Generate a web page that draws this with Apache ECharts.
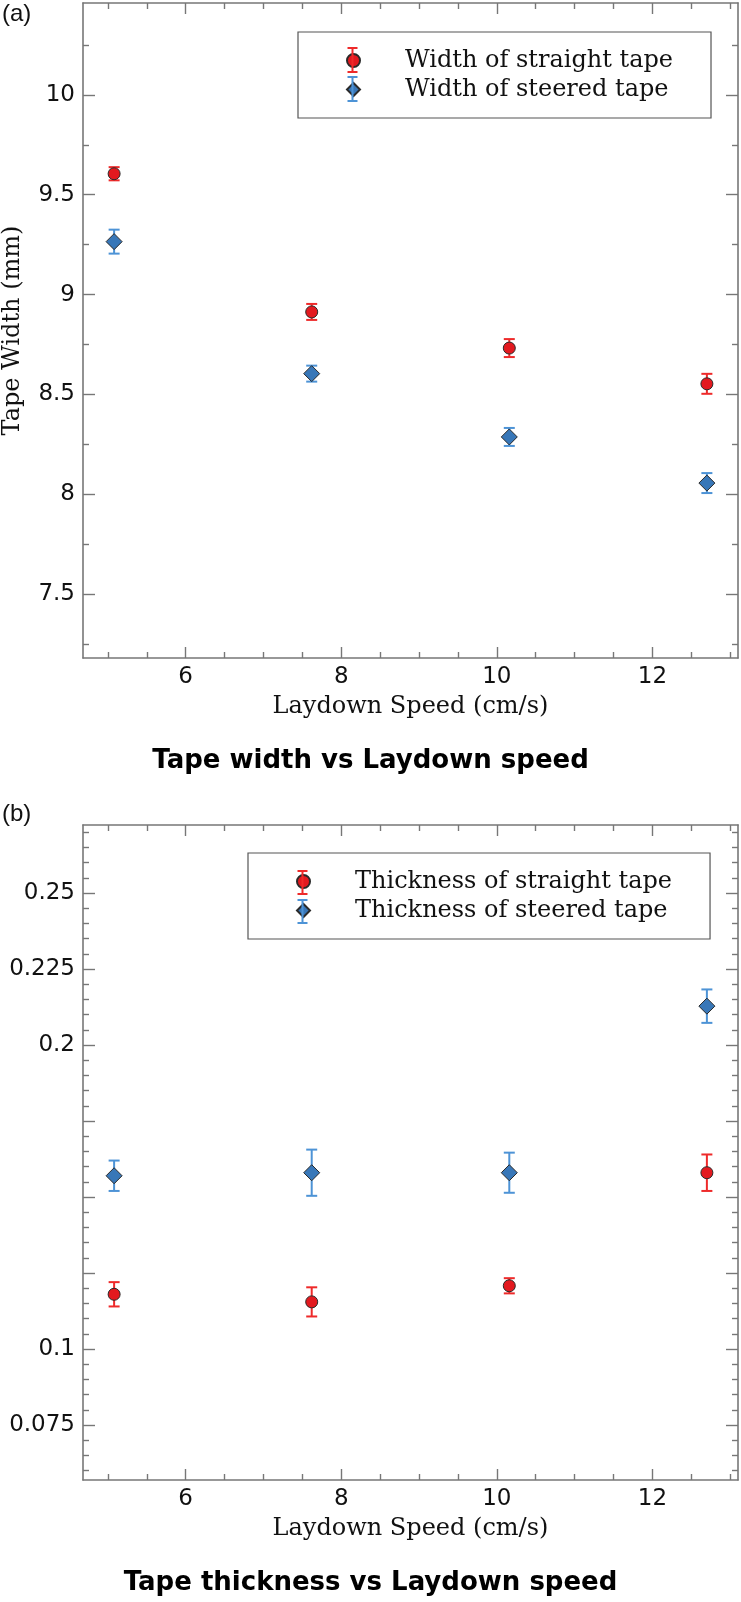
<!DOCTYPE html>
<html><head><meta charset="utf-8">
<script src="https://cdn.jsdelivr.net/npm/echarts@6/dist/echarts.min.js"></script>
<style>html,body{margin:0;padding:0;background:#fff}#c{width:741px;height:1602px}</style>
</head><body><div id="c"></div>
<script>
// ---- data ----
const speeds = [5.08, 7.62, 10.16, 12.7];
const widthStraight = [9.605, 8.913, 8.732, 8.553];
const widthStraightErr = [0.033, 0.04, 0.045, 0.05];
const widthSteered = [9.265, 8.604, 8.287, 8.056];
const widthSteeredErr = [0.06, 0.04, 0.045, 0.05];
const thickStraight = [0.118, 0.1155, 0.1208, 0.158];
const thickStraightErr = [0.004, 0.0048, 0.0025, 0.006];
const thickSteered = [0.157, 0.158, 0.158, 0.2128];
const thickSteeredErr = [0.005, 0.0076, 0.0066, 0.0055];

const xMajor = [6, 8, 10, 12];
const xMinor = [5, 5.5, 6.5, 7, 7.5, 8.5, 9, 9.5, 10.5, 11, 11.5, 12.5, 13];
const widthMajor = [7.5, 8, 8.5, 9, 9.5, 10];
const widthMinor = [7.25, 7.75, 8.25, 8.75, 9.25, 9.75, 10.25];
const thickMajor = [0.075, 0.1, 0.125, 0.15, 0.175, 0.2, 0.225, 0.25];
const thickLabels = [0.075, 0.1, 0.2, 0.225, 0.25];
const thickMinor = [];
for (let k = 12; k <= 54; k++) { if (k % 5 !== 0) thickMinor.push(+(k * 0.005).toFixed(3)); }

const names = ['Width of straight tape', 'Width of steered tape', 'Thickness of straight tape', 'Thickness of steered tape'];

// ---- styles ----
const AX = '#777';
const RED = '#e3191f', RED_BAR = '#ee2a2a';
const BLUE = '#3877b8', BLUE_BAR = '#4d93d6';
const TICK_FONT = 'DejaVu Sans';
const SERIF = 'DejaVu Serif';
const G = [{top: 3, h: 655}, {top: 825, h: 655}];
const XR = [4.68, 13.1];
const YR = [[7.18, 10.46], [0.0569, 0.2724]];

function fmt(v) { return String(+(+v).toFixed(4)); }

function axis(gridIndex, min, max, position, ticks, len, showLine, labels, extra) {
  const a = {
    type: 'value', gridIndex, min, max, position, offset: 0,
    axisLine: {show: showLine, onZero: false, lineStyle: {color: AX, width: 1.6}},
    axisTick: {show: true, inside: true, length: len, customValues: ticks, lineStyle: {color: AX, width: 1.4}},
    axisLabel: labels ? {show: true, customValues: labels, margin: 8, fontFamily: TICK_FONT, fontSize: 23, color: '#111', formatter: fmt}
                      : {show: false},
    splitLine: {show: false}, minorTick: {show: false}, minorSplitLine: {show: false},
    axisPointer: {show: false}
  };
  return Object.assign(a, extra || {});
}

const xAxes = [], yAxes = [];
const yMaj = [widthMajor, thickMajor], yMin = [widthMinor, thickMinor], yLab = [widthMajor, thickLabels];
const yName = ['Tape Width (mm)', 'Tape Thickness (mm)'];
for (let g = 0; g < 2; g++) {
  xAxes.push(axis(g, XR[0], XR[1], 'bottom', xMajor, 11, true, xMajor, {
    name: 'Laydown Speed (cm/s)', nameLocation: 'middle', nameGap: 37,
    nameTextStyle: {fontFamily: SERIF, fontSize: 24, color: '#111'}
  }));
  xAxes.push(axis(g, XR[0], XR[1], 'bottom', xMinor, 6, false, null));
  xAxes.push(axis(g, XR[0], XR[1], 'top', xMajor, 11, true, null));
  xAxes.push(axis(g, XR[0], XR[1], 'top', xMinor, 6, false, null));
  yAxes.push(axis(g, YR[g][0], YR[g][1], 'left', yMaj[g], 12, true, yLab[g], {
    name: yName[g], nameLocation: 'middle', nameGap: 58, nameRotate: 90,
    nameTextStyle: {fontFamily: SERIF, fontSize: 24, color: '#111'}
  }));
  yAxes.push(axis(g, YR[g][0], YR[g][1], 'left', yMin[g], 6, false, null));
  yAxes.push(axis(g, YR[g][0], YR[g][1], 'right', yMaj[g], 12, true, null));
  yAxes.push(axis(g, YR[g][0], YR[g][1], 'right', yMin[g], 6, false, null));
}

function errRender(color) {
  return function (params, api) {
    const x = api.value(0), y = api.value(1), e = api.value(2);
    const hi = api.coord([x, y + e]), lo = api.coord([x, y - e]);
    const hw = 5.5;
    const st = {stroke: color, lineWidth: 2};
    return {type: 'group', children: [
      {type: 'line', shape: {x1: hi[0], y1: hi[1], x2: lo[0], y2: lo[1]}, style: st},
      {type: 'line', shape: {x1: hi[0] - hw, y1: hi[1], x2: hi[0] + hw, y2: hi[1]}, style: st},
      {type: 'line', shape: {x1: lo[0] - hw, y1: lo[1], x2: lo[0] + hw, y2: lo[1]}, style: st}
    ]};
  };
}

const seriesDefs = [
  {g: 0, name: names[0], vals: widthStraight, err: widthStraightErr, sym: 'circle', size: 12, fill: RED, bar: RED_BAR},
  {g: 0, name: names[1], vals: widthSteered, err: widthSteeredErr, sym: 'diamond', size: 16, fill: BLUE, bar: BLUE_BAR},
  {g: 1, name: names[2], vals: thickStraight, err: thickStraightErr, sym: 'circle', size: 12, fill: RED, bar: RED_BAR},
  {g: 1, name: names[3], vals: thickSteered, err: thickSteeredErr, sym: 'diamond', size: 16, fill: BLUE, bar: BLUE_BAR}
];
const series = [];
seriesDefs.forEach(d => {
  series.push({
    type: 'custom', name: d.name + ' error', xAxisIndex: d.g * 4, yAxisIndex: d.g * 4,
    renderItem: errRender(d.bar), encode: {x: 0, y: 1}, z: 2, silent: true,
    data: speeds.map((x, i) => [x, d.vals[i], d.err[i]])
  });
  series.push({
    type: 'scatter', name: d.name, xAxisIndex: d.g * 4, yAxisIndex: d.g * 4,
    symbol: d.sym, symbolSize: d.size, z: 3,
    itemStyle: {color: d.fill, borderColor: '#2a2a2a', borderWidth: 1, opacity: 1},
    data: speeds.map((x, i) => [x, d.vals[i]])
  });
});

function legend(top, left, data) {
  return {
    data: data.map(n => ({name: n})), orient: 'vertical', left, top,
    padding: [14, 38, 14, 48], itemGap: 0, itemWidth: 13, itemHeight: 13,
    borderColor: '#555', borderWidth: 1.2, backgroundColor: '#fff',
    selectedMode: false, z: 4,
    textStyle: {fontFamily: SERIF, fontSize: 24, color: '#111', lineHeight: 29, padding: [0, 0, 0, 40]}
  };
}

function whisker(cx, y1, y2, color) {
  const st = {stroke: color, lineWidth: 2};
  return [
    {type: 'line', shape: {x1: cx, y1, x2: cx, y2}, style: st},
    {type: 'line', shape: {x1: cx - 5, y1, x2: cx + 5, y2: y1}, style: st},
    {type: 'line', shape: {x1: cx - 5, y1: y2, x2: cx + 5, y2}, style: st}
  ];
}

const titleFont = {fontFamily: 'DejaVu Sans', fontWeight: 'bold', fontSize: 26, color: '#000'};
const tagFont = {fontFamily: 'Liberation Sans', fontWeight: 'normal', fontSize: 24, color: '#111'};

const option = {
  animation: false,
  backgroundColor: '#fff',
  title: [
    {text: '(a)', left: 2, top: 2, padding: 0, textStyle: tagFont},
    {text: 'Tape width vs Laydown speed', left: 'center', top: 748, padding: 0, textStyle: titleFont},
    {text: '(b)', left: 2, top: 802, padding: 0, textStyle: tagFont},
    {text: 'Tape thickness vs Laydown speed', left: 'center', top: 1570, padding: 0, textStyle: titleFont}
  ],
  grid: G.map(g => ({left: 83, right: 3, top: g.top, height: g.h, containLabel: false, outerBoundsMode: 'none'})),
  xAxis: xAxes,
  yAxis: yAxes,
  legend: [legend(32, 298, [names[0], names[1]]), legend(853, 248, [names[2], names[3]])],
  graphic: {elements: [].concat(
    whisker(352.5, 48, 72, RED_BAR), whisker(352.5, 77, 101, BLUE_BAR),
    whisker(302.5, 871, 894, RED_BAR), whisker(302.5, 900, 923, BLUE_BAR)
  ).map(e => Object.assign(e, {z: 100}))},
  series
};
const chart = echarts.init(document.getElementById('c'), null, {renderer: 'canvas'});
chart.setOption(option);
</script></body></html>
